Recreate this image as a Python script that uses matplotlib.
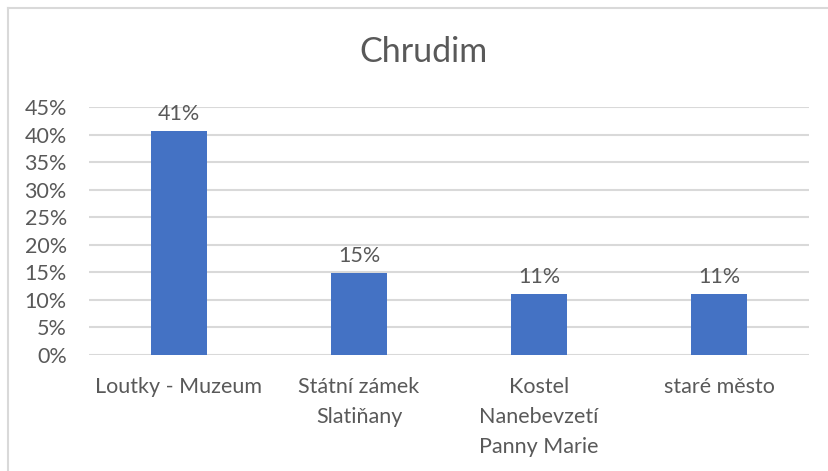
import matplotlib
matplotlib.use("Agg")
import matplotlib.pyplot as plt
from matplotlib.lines import Line2D
from matplotlib.ticker import PercentFormatter

# data
categories = ["Loutky - Muzeum", "Státní zámek\nSlatiňany", "Kostel\nNanebevzetí\nPanny Marie", "staré město"]
values = [0.407, 0.148, 0.111, 0.111]
labels = ["41%", "15%", "11%", "11%"]
yticks = [0, 0.05, 0.10, 0.15, 0.20, 0.25, 0.30, 0.35, 0.40, 0.45]

plt.rcParams['font.family'] = ['Lato', 'DejaVu Sans']
TXT = '#595959'

fig = plt.figure(figsize=(8.29, 4.71), dpi=100)
ax = fig.add_axes([89 / 829, 1 - 355 / 471, 720 / 829, 248 / 471])

x = range(len(categories))
ax.bar(x, values, width=0.31, color='#4472C4', zorder=3)
for xi, v, lab in zip(x, values, labels):
    ax.annotate(lab, (xi, v), xytext=(0, 8), textcoords='offset points',
                ha='center', va='baseline', fontsize=15.5, color=TXT)

ax.set_xlim(-0.5, len(categories) - 0.5)
ax.set_ylim(0, 0.45)
ax.set_yticks(yticks)
ax.yaxis.set_major_formatter(PercentFormatter(1.0, decimals=0))
ax.set_xticks(list(x))
ax.set_xticklabels(categories, linespacing=1.63)
ax.tick_params(axis='both', length=0, labelsize=15.5, labelcolor=TXT)
ax.tick_params(axis='y', pad=16)
ax.tick_params(axis='x', pad=15.5)
ax.grid(axis='y', color='#D9D9D9', linewidth=1.5, zorder=0)
for s in ax.spines.values():
    s.set_visible(False)

fig.text(424 / 829, 1 - 52 / 471, "Chrudim", ha='center', va='center',
         fontsize=24.5, color=TXT)

# chart border (only top/left visible in the crop)
fig.add_artist(Line2D([8 / 829, 1], [1 - 8 / 471] * 2, color='#D9D9D9', lw=1.5))
fig.add_artist(Line2D([8 / 829] * 2, [0, 1 - 8 / 471], color='#D9D9D9', lw=1.5))

fig.savefig("out.png", dpi=100)
